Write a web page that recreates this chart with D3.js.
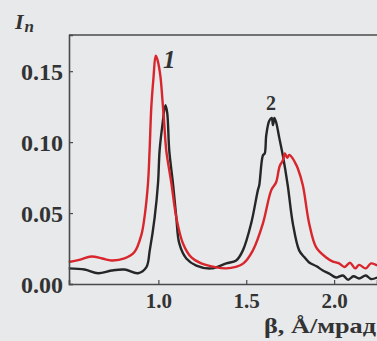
<!DOCTYPE html>
<html>
<head>
<meta charset="utf-8">
<script src="https://cdn.jsdelivr.net/npm/d3@7"></script>
<style>
  html, body { margin: 0; padding: 0; background: #e7e9eb; }
  svg { display: block; }
  text { font-family: "Liberation Serif", "DejaVu Serif", serif; font-weight: bold; fill: #333; }
</style>
</head>
<body>
<svg id="chart" width="377" height="341"></svg>
<script>
// curve 1 (red): [beta, I_n]
const redCurve = [
  [0.49, 0.0155], [0.55, 0.017], [0.619, 0.0194], [0.68, 0.018], [0.733, 0.0166], [0.807, 0.018],
  [0.864, 0.0225], [0.903, 0.0345], [0.921, 0.047], [0.941, 0.071], [0.950, 0.094],
  [0.960, 0.125], [0.972, 0.145], [0.985, 0.161], [0.995, 0.158], [1.011, 0.147],
  [1.023, 0.130], [1.034, 0.112], [1.045, 0.094], [1.074, 0.071], [1.102, 0.047],
  [1.14, 0.0286], [1.188, 0.0187], [1.244, 0.0145], [1.33, 0.0117], [1.386, 0.011],
  [1.44, 0.012], [1.484, 0.0145], [1.538, 0.0237], [1.595, 0.0427], [1.642, 0.066],
  [1.670, 0.0717], [1.690, 0.083], [1.708, 0.087], [1.72, 0.092], [1.733, 0.089],
  [1.745, 0.091], [1.767, 0.088], [1.78, 0.085], [1.793, 0.0816], [1.822, 0.0696],
  [1.858, 0.0427], [1.898, 0.0258], [1.955, 0.0187], [1.99, 0.016], [2.028, 0.0145],
  [2.06, 0.012], [2.09, 0.015], [2.12, 0.011], [2.142, 0.0135], [2.18, 0.011],
  [2.21, 0.0145], [2.245, 0.013]
];

// curve 2 (black)
const blackCurve = [
  [0.49, 0.011], [0.58, 0.0102], [0.657, 0.0076], [0.733, 0.0095], [0.807, 0.0102],
  [0.884, 0.0076], [0.932, 0.0119], [0.951, 0.0237], [0.979, 0.047], [0.998, 0.071],
  [1.007, 0.094], [1.023, 0.112], [1.040, 0.126], [1.050, 0.121], [1.062, 0.094],
  [1.083, 0.071], [1.102, 0.047], [1.119, 0.0286], [1.159, 0.018], [1.216, 0.013],
  [1.30, 0.011], [1.386, 0.0145], [1.443, 0.0166], [1.481, 0.0237], [1.528, 0.0427],
  [1.566, 0.066], [1.574, 0.0696], [1.595, 0.0907], [1.605, 0.092], [1.614, 0.105],
  [1.631, 0.115], [1.645, 0.117], [1.652, 0.112], [1.66, 0.117], [1.67, 0.114],
  [1.688, 0.103], [1.708, 0.0907], [1.736, 0.0696], [1.765, 0.0427], [1.801, 0.0237],
  [1.83, 0.019], [1.858, 0.0152], [1.90, 0.0125], [1.936, 0.0095], [1.97, 0.0075],
  [2.011, 0.0046], [2.05, 0.006], [2.08, 0.003], [2.11, 0.0055], [2.142, 0.0039],
  [2.18, 0.006], [2.21, 0.0035], [2.245, 0.0046]
];

const xTicks = [1.0, 1.5, 2.0];
const yTicks = [0.00, 0.05, 0.10, 0.15];

const margin = { top: 35, right: 0, bottom: 57, left: 69 };
const svg = d3.select('#chart');
const width = 377 - margin.left - margin.right;
const height = 341 - margin.top - margin.bottom;

const x = d3.scaleLinear().domain([0.4915, 2.244]).range([0, width]);
const y = d3.scaleLinear().domain([0, 0.1755]).range([height, 0]);

const g = svg.append('g')
    .attr('transform', `translate(${margin.left}, ${margin.top})`);

const line = d3.line()
    .x(d => x(d[0]))
    .y(d => y(d[1]))
    .curve(d3.curveCatmullRom);

g.append('path')
    .datum(blackCurve)
    .attr('fill', 'none')
    .attr('stroke', '#262626')
    .attr('stroke-width', 2.4)
    .attr('stroke-linejoin', 'round')
    .attr('d', line);

g.append('path')
    .datum(redCurve)
    .attr('fill', 'none')
    .attr('stroke', '#d8262c')
    .attr('stroke-width', 2.4)
    .attr('stroke-linejoin', 'round')
    .attr('d', line);

// axes, ticks pointing inward
const xAxis = g.append('g')
    .attr('transform', `translate(0, ${height})`)
    .call(d3.axisBottom(x).tickValues(xTicks).tickSize(-4).tickPadding(9).tickFormat(d3.format('.1f')));
const yAxis = g.append('g')
    .call(d3.axisLeft(y).tickValues(yTicks).tickSize(-4).tickPadding(6).tickFormat(d3.format('.2f')));

[xAxis, yAxis].forEach(a => {
  a.select('.domain').attr('stroke', '#4a4a4a').attr('stroke-width', 1.6);
  a.selectAll('.tick line').attr('stroke', '#4a4a4a').attr('stroke-width', 1.2);
  a.selectAll('.tick text')
      .attr('font-family', '"Liberation Serif", serif')
      .attr('font-weight', 'bold')
      .attr('fill', '#333');
});
xAxis.selectAll('.tick text').attr('font-size', 21);
yAxis.selectAll('.tick text').attr('font-size', 24).attr('dy', '0.36em');

// top frame
g.append('line')
    .attr('x1', 0).attr('x2', width)
    .attr('y1', 0).attr('y2', 0)
    .attr('stroke', '#4a4a4a')
    .attr('stroke-width', 1.4);

// axis titles
const yTitle = svg.append('text')
    .attr('x', 15).attr('y', 29)
    .attr('font-size', 22)
    .attr('font-style', 'italic');
yTitle.append('tspan').text('I');
yTitle.append('tspan').attr('font-size', 17).attr('dy', 3).attr('dx', 1).text('n');

svg.append('text')
    .attr('x', 376).attr('y', 333)
    .attr('text-anchor', 'end')
    .attr('font-size', 21)
    .attr('textLength', 112)
    .attr('lengthAdjust', 'spacingAndGlyphs')
    .text('β, Å/мрад');

// curve labels
svg.append('text')
    .attr('x', 163).attr('y', 68)
    .attr('font-size', 25)
    .attr('font-style', 'italic')
    .text('1');
svg.append('text')
    .attr('x', 266).attr('y', 110)
    .attr('font-size', 20)
    .text('2');
</script>
</body>
</html>
